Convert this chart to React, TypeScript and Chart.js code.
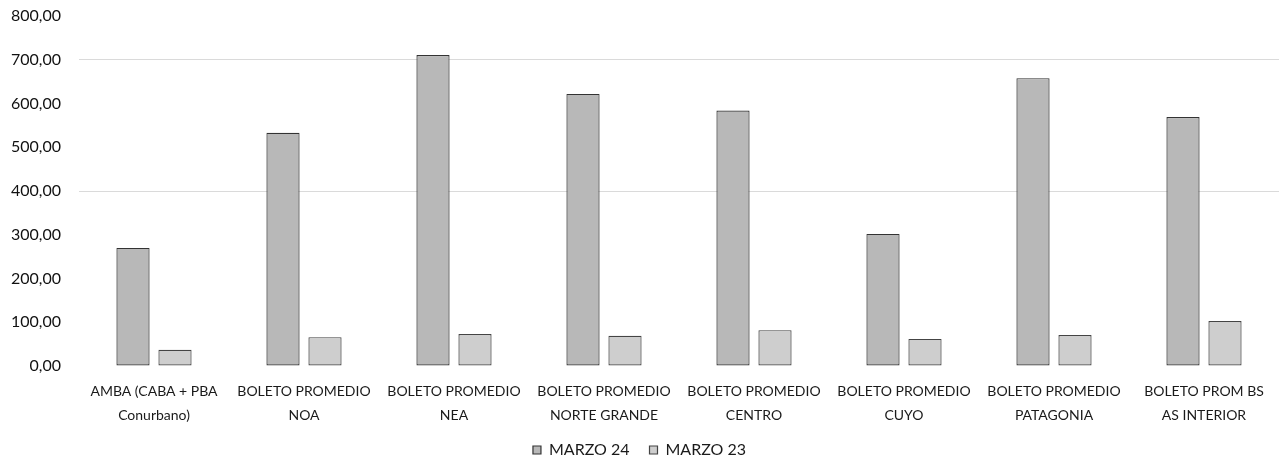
import React, { useEffect, useRef } from "react";
import { Chart, registerables } from "chart.js";

Chart.register(...registerables);

const categories: string[][] = [
  ["AMBA (CABA + PBA", "Conurbano)"],
  ["BOLETO PROMEDIO", "NOA"],
  ["BOLETO PROMEDIO", "NEA"],
  ["BOLETO PROMEDIO", "NORTE GRANDE"],
  ["BOLETO PROMEDIO", "CENTRO"],
  ["BOLETO PROMEDIO", "CUYO"],
  ["BOLETO PROMEDIO", "PATAGONIA"],
  ["BOLETO PROM BS", "AS INTERIOR"],
];

const marzo24: number[] = [270, 533, 711, 622, 584, 302, 658, 569];
const marzo23: number[] = [37, 66, 73, 69, 82, 62, 71, 103];

const seriesNames: string[] = ["MARZO 24", "MARZO 23"];
const visibleGridValues: number[] = [400, 700];

const FONT = "Lato, 'Open Sans', sans-serif";

export default function App() {
  const ref = useRef<HTMLCanvasElement | null>(null);

  useEffect(() => {
    if (!ref.current) return;
    const chart = new Chart(ref.current, {
      type: "bar",
      data: {
        labels: categories,
        datasets: [
          {
            label: seriesNames[0],
            data: marzo24,
            backgroundColor: "#b8b8b8",
            borderColor: "#333333",
            borderWidth: 1.2,
            borderSkipped: false,
            categoryPercentage: 0.56,
            barPercentage: 0.79,
          },
          {
            label: seriesNames[1],
            data: marzo23,
            backgroundColor: "#cecece",
            borderColor: "#444444",
            borderWidth: 1.2,
            borderSkipped: false,
            categoryPercentage: 0.56,
            barPercentage: 0.79,
          },
        ],
      },
      options: {
        animation: false,
        responsive: false,
        maintainAspectRatio: false,
        layout: { padding: { top: 16, right: 3, bottom: -4, left: 0 } },
        plugins: {
          tooltip: { enabled: false },
          legend: {
            position: "bottom",
            labels: {
              boxWidth: 8,
              boxHeight: 8,
              padding: 20,
              color: "#1a1a1a",
              font: { family: FONT, size: 16 },
            },
          },
        },
        scales: {
          x: {
            grid: { display: false, drawTicks: false },
            border: { display: false },
            ticks: {
              color: "#1a1a1a",
              padding: 14,
              maxRotation: 0,
              autoSkip: false,
              font: { family: FONT, size: 14, lineHeight: 1.7 },
            },
            afterFit: (s: any) => {
              s.height = 56;
            },
          },
          y: {
            min: 0,
            max: 800,
            border: { display: false },
            grid: {
              drawTicks: true,
              tickLength: 18,
              tickColor: "rgba(0,0,0,0)",
              color: (ctx: any) =>
                ctx.tick && visibleGridValues.includes(ctx.tick.value)
                  ? "#dadada"
                  : "rgba(0,0,0,0)",
              lineWidth: 1,
            },
            ticks: {
              stepSize: 100,
              padding: 0,
              color: "#111",
              font: { family: FONT, size: 16 },
              callback: (v: any) => Number(v).toFixed(2).replace(".", ","),
            },
            afterFit: (s: any) => {
              s.width = 79;
            },
          },
        },
      },
    });
    return () => chart.destroy();
  }, []);

  return (
    <div style={{ position: "fixed", left: 0, top: 0, width: 1282, height: 464, background: "#fff" }}>
      <canvas ref={ref} width={1282} height={464} style={{ width: 1282, height: 464 }} />
    </div>
  );
}
